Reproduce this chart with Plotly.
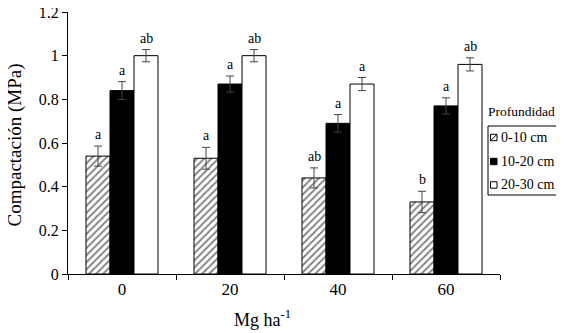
import plotly.graph_objects as go

categories = ["0", "20", "40", "60"]
series_names = ["0-10 cm", "10-20 cm", "20-30 cm"]
vals_0_10 = [0.54, 0.53, 0.44, 0.33]
vals_10_20 = [0.84, 0.87, 0.69, 0.77]
vals_20_30 = [1.00, 1.00, 0.87, 0.96]
err_0_10 = [0.046, 0.05, 0.046, 0.049]
err_10_20 = [0.041, 0.037, 0.04, 0.037]
err_20_30 = [0.028, 0.028, 0.03, 0.03]
letters_0_10 = ["a", "a", "ab", "b"]
letters_10_20 = ["a", "a", "a", "a"]
letters_20_30 = ["ab", "ab", "a", "ab"]
y_ticks = [0, 0.2, 0.4, 0.6, 0.8, 1.0, 1.2]
y_ticktext = ["0", "0.2", "0.4", "0.6", "0.8", "1", "1.2"]

FONT = "Liberation Serif"

values = [vals_0_10, vals_10_20, vals_20_30]
errors = [err_0_10, err_10_20, err_20_30]
letters = [letters_0_10, letters_10_20, letters_20_30]
styles = [
    dict(color="white", pattern=dict(shape="/", fgcolor="black", bgcolor="white", size=5, solidity=0.35)),
    dict(color="black"),
    dict(color="white"),
]

# page has an 8px body margin; work in page pixels and convert
OFF = 8
W, H = 556, 325
L, T = 60, 4
pw, ph = 432, 262
R, B = W - L - pw, H - T - ph

def px_x(x):
    return (x - OFF - L) / pw

def px_y(y):
    return (T + ph - (y - OFF)) / ph

fig = go.Figure()
for name, v, e, st in zip(series_names, values, errors, styles):
    fig.add_trace(go.Bar(
        x=categories, y=v, name=name,
        marker=dict(line=dict(color="black", width=1), **st),
        error_y=dict(type="data", array=e, color="#444", thickness=1, width=4),
    ))

bar_w = (1 - 1/3) / 3
for si, (v, e, lt) in enumerate(zip(values, errors, letters)):
    off = (si - 1) * bar_w
    for ci in range(len(categories)):
        fig.add_annotation(
            x=ci + off, y=v[ci] + e[ci], text=lt[ci], showarrow=False,
            yanchor="bottom", yshift=2, xref="x", yref="y",
            font=dict(family=FONT, size=14, color="black"),
        )

# legend (drawn manually to match the reference layout)
fig.add_annotation(
    x=px_x(486), y=px_y(112), xref="paper", yref="paper", text="Profundidad", showarrow=False,
    font=dict(family=FONT, size=13.5, color="black"), xanchor="left", yanchor="middle",
)
fig.add_shape(type="rect", xref="paper", yref="paper",
              x0=px_x(488), x1=px_x(559), y0=px_y(126), y1=px_y(195),
              line=dict(color="black", width=1), fillcolor="white")
item_y = [137.5, 161.5, 185]
sym_fill = ["white", "black", "white"]
for name, yy, fc in zip(series_names, item_y, sym_fill):
    fig.add_shape(type="rect", xref="paper", yref="paper",
                  x0=px_x(490.5), x1=px_x(497), y0=px_y(yy + 3.2), y1=px_y(yy - 3.2),
                  line=dict(color="black", width=1), fillcolor=fc)
    fig.add_annotation(
        x=px_x(498.5), y=px_y(yy), xref="paper", yref="paper", text=name, showarrow=False,
        font=dict(family=FONT, size=14, color="black"), xanchor="left", yanchor="middle",
    )
fig.add_shape(type="line", xref="paper", yref="paper",
              x0=px_x(490.5), x1=px_x(497), y0=px_y(item_y[0] + 3.2), y1=px_y(item_y[0] - 3.2),
              line=dict(color="black", width=1))

# axis titles
fig.add_annotation(
    x=px_x(262), y=px_y(318), xref="paper", yref="paper",
    text="Mg ha<sup>-1</sup>", showarrow=False,
    font=dict(family=FONT, size=18, color="black"), xanchor="center", yanchor="middle",
)
fig.add_annotation(
    x=px_x(14.5), y=px_y(145), xref="paper", yref="paper",
    text="Compactación (MPa)", showarrow=False, textangle=-90,
    font=dict(family=FONT, size=19, color="black"), xanchor="center", yanchor="middle",
)

fig.update_layout(
    width=W, height=H,
    margin=dict(l=L, r=R, t=T, b=B, pad=0, autoexpand=False),
    paper_bgcolor="white", plot_bgcolor="white",
    barmode="group", bargap=1/3, bargroupgap=0,
    font=dict(family=FONT, size=16, color="black"),
    showlegend=False,
    xaxis=dict(
        type="category", range=[-0.5, 3.5], showline=True, linecolor="black", linewidth=1,
        ticks="outside", ticklen=5, tickcolor="black", tickson="boundaries",
        showgrid=False, zeroline=False, tickfont=dict(family=FONT, size=17), automargin=False,
    ),
    yaxis=dict(
        range=[0, 1.2], tickvals=y_ticks, ticktext=y_ticktext,
        showline=True, linecolor="black", linewidth=1,
        ticks="outside", ticklen=5, tickcolor="black", showgrid=False, zeroline=False,
        tickfont=dict(family=FONT, size=16), automargin=False, ticklabeloverflow="allow",
    ),
)

fig.write_html("out.html")
